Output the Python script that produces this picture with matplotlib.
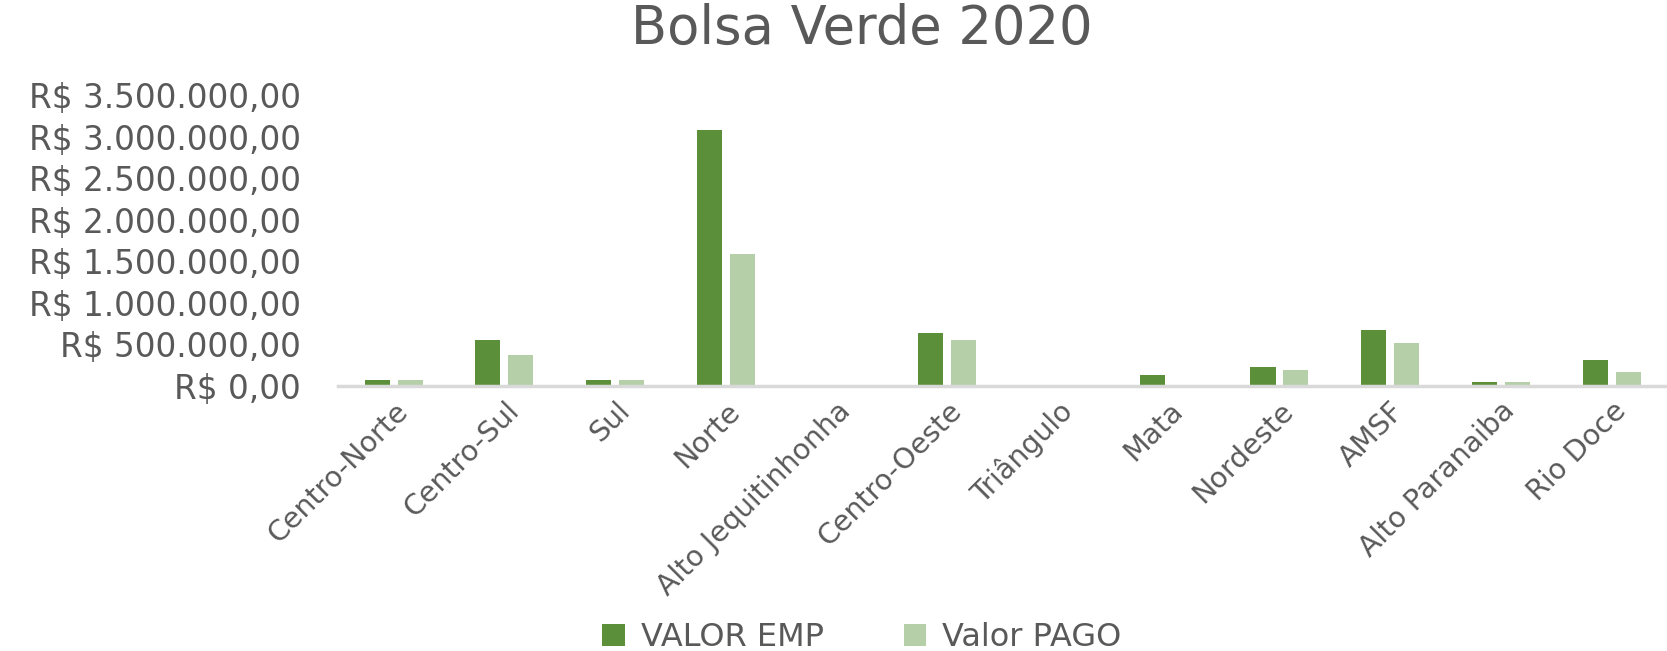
import numpy as np
import matplotlib
matplotlib.use("Agg")
import matplotlib.pyplot as plt
from matplotlib.ticker import FuncFormatter

regioes = ["Centro-Norte", "Centro-Sul", "Sul", "Norte", "Alto Jequitinhonha",
           "Centro-Oeste", "Triângulo", "Mata", "Nordeste", "AMSF",
           "Alto Paranaiba", "Rio Doce"]
valor_emp = [69000, 551000, 69000, 3085000, 0, 636000, 0, 129000, 225000, 672000, 45000, 310000]
valor_pago = [69000, 370000, 69000, 1590000, 0, 551000, 0, 0, 189000, 515000, 45000, 165000]

cor_emp = "#5b8f39"
cor_pago = "#b5cfa8"
cinza = "#595959"

def real(v, pos):
    s = "{:,.2f}".format(v).replace(",", "X").replace(".", ",").replace("X", ".")
    return "R$ " + s

fig = plt.figure(figsize=(16.67, 6.51), dpi=100)
ax = fig.add_axes([0.203, 0.4075, 0.797, 0.4465])

x = np.arange(len(regioes))
w = 0.226
ax.bar(x - 0.149, valor_emp, w, color=cor_emp, label="VALOR EMP")
ax.bar(x + 0.149, valor_pago, w, color=cor_pago, label="Valor PAGO")

ax.set_xlim(-0.5, len(regioes) - 0.5)
ax.set_ylim(0, 3500000)
ax.set_yticks(np.arange(0, 3500001, 500000))
ax.yaxis.set_major_formatter(FuncFormatter(real))

for s in ["top", "right", "left"]:
    ax.spines[s].set_visible(False)
ax.spines["bottom"].set_color("#d9d9d9")
ax.spines["bottom"].set_linewidth(2.5)

ax.tick_params(axis="y", length=0, pad=27, labelsize=23.5, labelcolor=cinza)
ax.tick_params(axis="x", length=0, pad=8, labelsize=20.5, labelcolor=cinza)
ax.set_xticks(x)
ax.set_xticklabels(regioes, rotation=45, ha="right", rotation_mode="anchor")

fig.text(0.517, 0.955, "Bolsa Verde 2020", ha="center", va="center",
         fontsize=38, color=cinza)

fig.legend(loc="center", bbox_to_anchor=(0.517, 0.02), ncol=2, frameon=False,
           fontsize=23, labelcolor=cinza, handlelength=0.7, handleheight=0.7,
           columnspacing=2.5, handletextpad=0.5)

fig.savefig("out.png", dpi=100)
